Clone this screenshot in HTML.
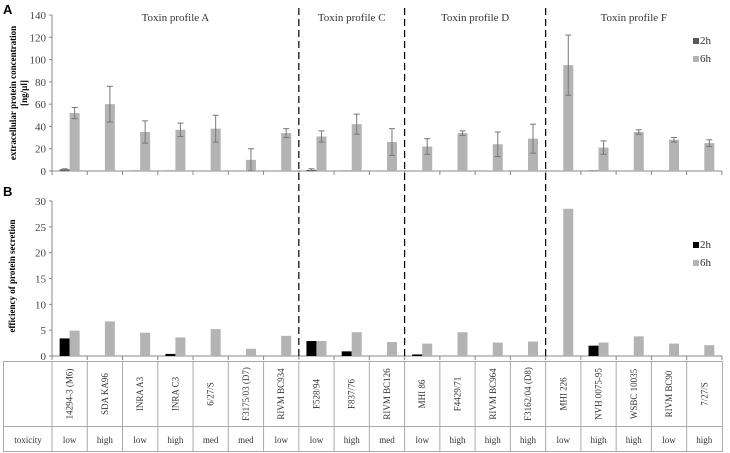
<!DOCTYPE html>
<html><head><meta charset="utf-8"><style>
html,body{margin:0;padding:0;background:#fff;}
svg{display:block;font-family:"Liberation Serif",serif;}
</style></head><body>
<svg id="c" width="730" height="453" viewBox="0 0 730 453" xmlns="http://www.w3.org/2000/svg"></svg>
<script>
const strains=["14294-3 (M6)","SDA KA96","INRA A3","INRA C3","6/27/S","F3175/03 (D7)","RIVM BC934","F528/94","F837/76","RIVM BC126","MHI 86","F4429/71","RIVM BC964","F3162/04 (D8)","MHI 226","NVH 0075-95","WSBC 10035","RIVM BC90","7/27/S"];
const toxicity=["low","high","low","high","med","med","low","low","high","med","low","high","high","high","low","high","high","low","high"];
const concA2h=[1.5,0,0.3,0.3,0,0,0,1,0.3,0,0,0,0,0,0,0.5,0,0,0];
const concA2hErr=[0.5,0,0,0,0,0,0,1,0,0,0,0,0,0,0,0,0,0,0];
const concA6h=[52,60,35,37,38,10,34,31,42,26,22,34,24,29,95,21,35,28,25];
const concA6hErr=[5,16,10,6,12,10,4,5,9,12,7,2,11,13,27,6,2,2,3];
const effB2h=[3.4,0,0,0.4,0,0,0,2.9,0.9,0,0.3,0,0,0,0,2.0,0,0,0];
const effB6h=[4.9,6.7,4.5,3.6,5.2,1.4,3.9,2.9,4.6,2.7,2.4,4.6,2.6,2.8,28.5,2.6,3.8,2.4,2.1];
const ticksA=[0,20,40,60,80,100,120,140];
const ticksB=[0,5,10,15,20,25,30];
const groups=["Toxin profile A","Toxin profile C","Toxin profile D","Toxin profile F"];
const groupEnds=[7,10,14,19];

const svg=document.getElementById('c');
const NS="http://www.w3.org/2000/svg";
function mk(t,a,p){const e=document.createElementNS(NS,t);for(const k in a)e.setAttribute(k,a[k]);(p||svg).appendChild(e);return e;}
const X0=52,CW=35.26;
const cx=i=>X0+CW*(i+0.5);
const yA=v=>171-v*156/140;
const yB=v=>356-v*155/30;
const BW=10;

// panel letters
let t=mk('text',{x:3,y:14,'font-size':13,'font-weight':'bold','font-family':'Liberation Sans, sans-serif'});t.textContent='A';

t=mk('text',{x:3,y:196,'font-size':13,'font-weight':'bold','font-family':'Liberation Sans, sans-serif'});t.textContent='B';


function axis(yf,ticks,name){
  const g=mk('g',{});
  
  mk('line',{x1:X0,y1:yf(ticks[ticks.length-1]),x2:X0,y2:yf(0),stroke:'#888','stroke-width':1},g);
  mk('line',{x1:X0,y1:yf(0),x2:X0+CW*19,y2:yf(0),stroke:'#888','stroke-width':1},g);
  ticks.forEach(v=>{
    mk('line',{x1:X0-3,y1:yf(v),x2:X0,y2:yf(v),stroke:'#888'},g);
    const tx=mk('text',{x:X0-6,y:yf(v)+4,'font-size':11,'text-anchor':'end',fill:'#444'},g);tx.textContent=v;
  });
  for(let i=0;i<=19;i++)mk('line',{x1:X0+CW*i,y1:yf(0),x2:X0+CW*i,y2:yf(0)+4,stroke:'#888'},g);
}
axis(yA,ticksA,'axis-a');axis(yB,ticksB,'axis-b');

// y titles
t=mk('text',{transform:'translate(16,93) rotate(-90)','text-anchor':'middle','font-size':9,'font-weight':'bold'});t.textContent='extracellular protein concentration';

t=mk('text',{transform:'translate(27,93) rotate(-90)','text-anchor':'middle','font-size':9,'font-weight':'bold'});t.textContent='[ng/µl]';

t=mk('text',{transform:'translate(15,276) rotate(-90)','text-anchor':'middle','font-size':9,'font-weight':'bold'});t.textContent='efficiency of protein secretion';


// bars A
strains.forEach((s,i)=>{
  let r=mk('rect',{x:cx(i)-BW,y:yA(concA2h[i]),width:BW,height:yA(0)-yA(concA2h[i]),fill:'#595959'});
  
  r=mk('rect',{x:cx(i),y:yA(concA6h[i]),width:BW,height:yA(0)-yA(concA6h[i]),fill:'#b3b3b3'});
  
  [[concA6h[i],concA6hErr[i],cx(i)+BW/2],[concA2h[i],concA2hErr[i],cx(i)-BW/2]].forEach(([v,e,x])=>{
    if(e<=0)return;
    const g=mk('g',{stroke:'#777','stroke-width':1});
    
    mk('line',{x1:x,y1:yA(v+e),x2:x,y2:yA(Math.max(0,v-e))},g);
    mk('line',{x1:x-3,y1:yA(v+e),x2:x+3,y2:yA(v+e)},g);
    mk('line',{x1:x-3,y1:yA(Math.max(0,v-e)),x2:x+3,y2:yA(Math.max(0,v-e))},g);
  });
  r=mk('rect',{x:cx(i)-BW,y:yB(effB2h[i]),width:BW,height:yB(0)-yB(effB2h[i]),fill:'#000'});
  
  r=mk('rect',{x:cx(i),y:yB(effB6h[i]),width:BW,height:yB(0)-yB(effB6h[i]),fill:'#b3b3b3'});
  
});

// group dividers & titles
let prev=0;
groups.forEach((gname,k)=>{
  const e=groupEnds[k];
  const tx=mk('text',{x:X0+CW*(prev+e)/2,y:21,'font-size':11,'text-anchor':'middle',fill:'#333'});tx.textContent=gname;
  
  if(k<groups.length-1){
    const l=mk('line',{x1:X0+CW*e,y1:8,x2:X0+CW*e,y2:356,stroke:'#000','stroke-width':1.2,'stroke-dasharray':'7,4'});
    
  }
  prev=e;
});

// legends
function legend(x,y,c1,name){
  const g=mk('g',{});
  mk('rect',{x:x,y:y-6,width:6,height:6,fill:c1},g);
  let a=mk('text',{x:x+7,y:y,'font-size':11,fill:'#333'},g);a.textContent='2h';
  mk('rect',{x:x,y:y+12,width:6,height:6,fill:'#b3b3b3'},g);
  a=mk('text',{x:x+7,y:y+18,'font-size':11,fill:'#333'},g);a.textContent='6h';
}
legend(693,44,'#595959','legend-a');legend(693,248,'#000','legend-b');

// table
const tg=mk('g',{stroke:'#aaa','stroke-width':1,fill:'none'});

mk('rect',{x:3.5,y:361.5,width:X0+CW*19-3,height:90},tg);
mk('line',{x1:3.5,y1:426.5,x2:X0+CW*19+0.5,y2:426.5},tg);
for(let i=0;i<19;i++)mk('line',{x1:X0+CW*i,y1:361.5,x2:X0+CW*i,y2:451.5},tg);
let tx=mk('text',{x:28,y:443,'font-size':9,'text-anchor':'middle',fill:'#333'});tx.textContent='toxicity';

strains.forEach((s,i)=>{
  let a=mk('text',{transform:`translate(${cx(i)+3},394) rotate(-90)`,'font-size':9,'text-anchor':'middle',fill:'#333'});a.textContent=s;
  
  a=mk('text',{x:cx(i),y:443,'font-size':9,'text-anchor':'middle',fill:'#333'});a.textContent=toxicity[i];
  
});
</script>
</body></html>
